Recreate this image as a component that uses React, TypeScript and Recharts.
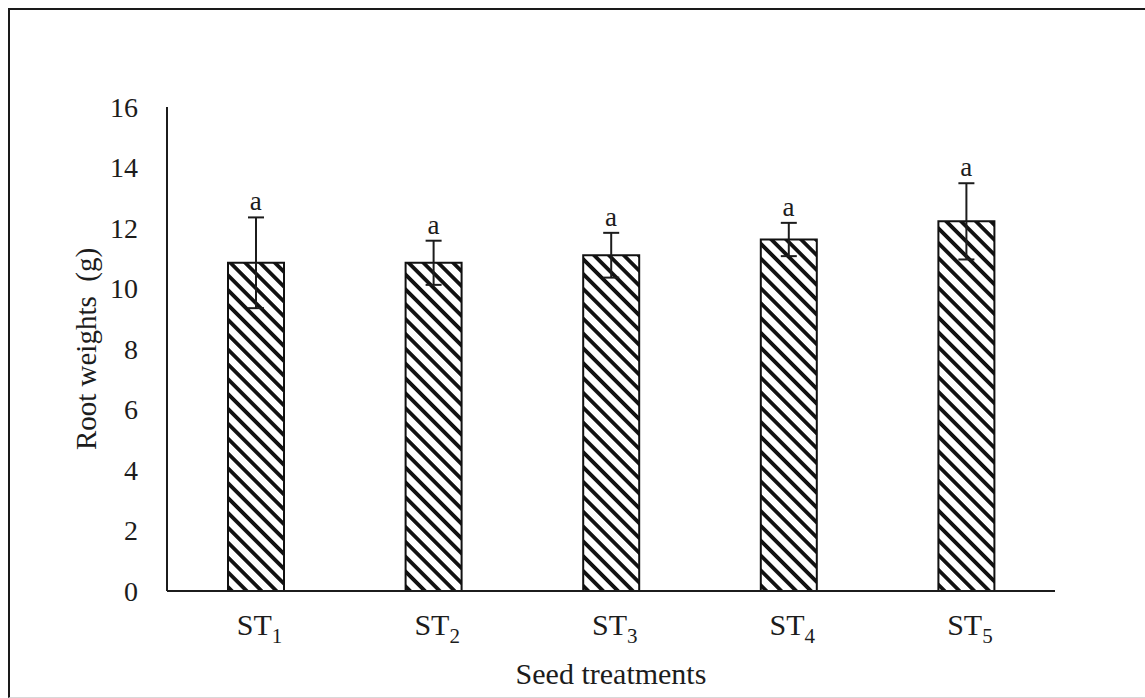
import React from "react"
import {
  ComposedChart,
  Bar,
  Line,
  XAxis,
  YAxis,
  ErrorBar,
  LabelList,
  Label,
} from "recharts"

const treatments = ["ST1", "ST2", "ST3", "ST4", "ST5"]
const rootWeights = [10.85, 10.85, 11.1, 11.62, 12.22]
const errors = [1.5, 0.73, 0.74, 0.55, 1.26]
const letters = ["a", "a", "a", "a", "a"]
const yTicks = [0, 2, 4, 6, 8, 10, 12, 14, 16]

const data = treatments.map((name, i) => ({
  name,
  weight: rootWeights[i],
  err: errors[i],
  top: rootWeights[i] + errors[i],
  sig: letters[i],
}))

const serif = "'Liberation Serif', 'Times New Roman', serif"
const ink = "#1c1c1c"

const TreatmentTick = (props: any) => {
  const { x, y, payload } = props
  const label = String(payload.value)
  const base = label.slice(0, -1)
  const sub = label.slice(-1)
  return (
    <text x={x - 19} y={y + 44} fontFamily={serif} fontSize={30} fill={ink} textAnchor="start">
      <tspan>{base}</tspan>
      <tspan dy={8} fontSize={21}>{sub}</tspan>
    </text>
  )
}

const YTitle = (props: any) => {
  const vb = props.viewBox
  const cx = vb.x + 76
  const cy = vb.y + vb.height / 2
  return (
    <text
      x={cx}
      y={cy}
      transform={`rotate(-90 ${cx} ${cy})`}
      textAnchor="middle"
      dominantBaseline="central"
      fontFamily={serif}
      fontSize={29}
      fill={ink}
      style={{ whiteSpace: "pre" }}
    >
      Root weights  (g)
    </text>
  )
}

const SigLetter = (props: any) => {
  const { x, y, width, value } = props
  return (
    <text
      x={x + (width || 0) / 2}
      y={y - 7}
      textAnchor="middle"
      fontFamily={serif}
      fontSize={27}
      fill={ink}
    >
      {value}
    </text>
  )
}

export default function App() {
  return (
    <div
      style={{
        position: "absolute",
        left: 8,
        top: 8,
        width: 1137,
        height: 690,
        boxSizing: "border-box",
        borderTop: "2px solid #1a1a1a",
        borderLeft: "2px solid #1a1a1a",
        borderBottom: "1px solid #d8d8d8",
        background: "white",
        overflow: "hidden",
      }}
    >
      <ComposedChart
        width={1135}
        height={687}
        data={data}
        margin={{ top: 97, right: 90, left: 0, bottom: 0 }}
      >
        <defs>
          <pattern
            id="hatch"
            width="10.5"
            height="10.5"
            patternUnits="userSpaceOnUse"
            patternTransform="rotate(45)"
          >
            <rect width="10.5" height="10.5" fill="white" />
            <rect x="0" y="0" width="10.5" height="3.8" fill="#111" />
          </pattern>
        </defs>
        <XAxis
          dataKey="name"
          axisLine={{ stroke: ink, strokeWidth: 2 }}
          tickLine={false}
          tickSize={0}
          tickMargin={0}
          height={106}
          interval={0}
          tick={<TreatmentTick />}
        >
          <Label
            value="Seed treatments"
            position="insideBottom"
            offset={13}
            fontFamily={serif}
            fontSize={30}
            fill={ink}
          />
        </XAxis>
        <XAxis
          xAxisId="top"
          dataKey="name"
          orientation="top"
          height={0}
          tick={false}
          tickLine={false}
          axisLine={{ stroke: ink, strokeWidth: 2 }}
        />
        <YAxis
          domain={[0, 16]}
          ticks={yTicks}
          width={157}
          tickLine={false}
          tickSize={0}
          tickMargin={29}
          axisLine={{ stroke: ink, strokeWidth: 2 }}
          tick={{ fontFamily: serif, fontSize: 28, fill: ink }}
        >
          <Label content={<YTitle />} />
        </YAxis>
        <YAxis
          yAxisId="right"
          orientation="right"
          domain={[0, 16]}
          width={0}
          tick={false}
          tickLine={false}
          axisLine={{ stroke: ink, strokeWidth: 2 }}
        />
        <Bar
          dataKey="weight"
          barSize={56}
          fill="url(#hatch)"
          stroke="#111"
          strokeWidth={2}
          isAnimationActive={false}
        >
          <ErrorBar
            dataKey="err"
            width={8}
            stroke={ink}
            strokeWidth={2}
            direction="y"
            isAnimationActive={false}
          />
        </Bar>
        <Line
          dataKey="top"
          stroke="none"
          dot={false}
          activeDot={false}
          legendType="none"
          isAnimationActive={false}
        >
          <LabelList dataKey="sig" content={<SigLetter />} />
        </Line>
      </ComposedChart>
    </div>
  )
}
